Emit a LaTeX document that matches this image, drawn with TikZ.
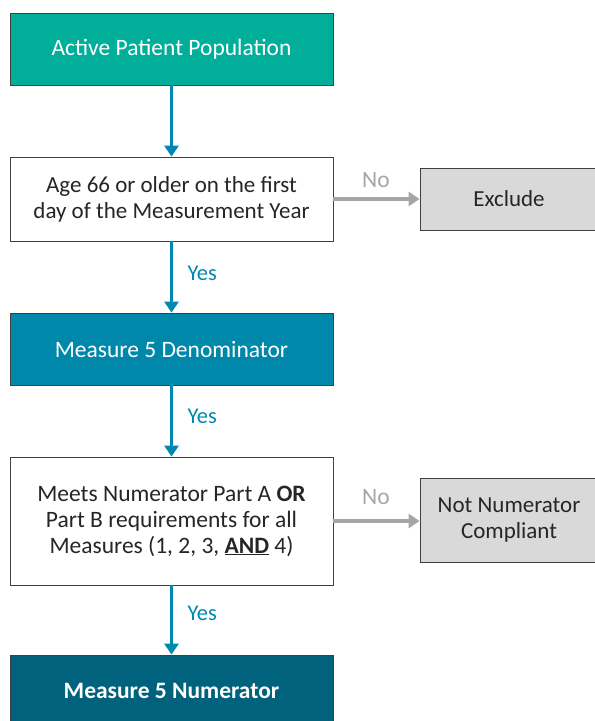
\documentclass[tikz,border=0pt]{standalone}
\usepackage{fontspec}
\setmainfont{Carlito}
\usetikzlibrary{arrows.meta}
\definecolor{teal1}{HTML}{00AE9A}
\definecolor{blue1}{HTML}{0088AA}
\definecolor{blue2}{HTML}{00627D}
\definecolor{arrowblue}{HTML}{0089B0}
\definecolor{greyfill}{HTML}{D9D9D9}
\definecolor{greyline}{HTML}{A6A6A6}
\definecolor{edge}{HTML}{404040}
\tikzset{
  box/.style={draw=edge, line width=0.8pt, minimum width=323pt, align=center,
    font=\fontsize{23.5}{26}\selectfont, inner sep=0pt},
  sidebox/.style={draw=edge, line width=0.8pt, fill=greyfill, align=center,
    font=\fontsize{23}{26}\selectfont, inner sep=0pt, text=black!85},
  yesarrow/.style={draw=arrowblue, line width=3.6pt, -{Triangle[width=14pt,length=11pt]}},
  noarrow/.style={draw=greyline, line width=3.6pt, -{Triangle[width=14pt,length=11pt]}},
  yeslabel/.style={text=arrowblue, font=\fontsize{22.5}{24}\selectfont, anchor=west},
  nolabel/.style={text=greyline, font=\fontsize{23.5}{24}\selectfont},
}
\begin{document}
\begin{tikzpicture}[x=1pt,y=-1pt]
\useasboundingbox (0,0) rectangle (595,721);
\begin{scope}
\clip (0,0) rectangle (595,721);
% main column
\node[box, fill=teal1, text=white, minimum height=72pt] (pop) at (171.5,49) {Active Patient Population};
\node[box, fill=white, text=black!85, minimum height=84pt, font=\fontsize{23}{26}\selectfont] (age) at (171.5,199) {Age 66 or older on the first\\day of the Measurement Year};
\node[box, fill=blue1, text=white, minimum height=72pt] (den) at (171.5,349) {Measure 5 Denominator};
\node[box, fill=white, text=black!85, minimum height=128pt] (meets) at (171.5,521) {Meets Numerator Part A \textbf{OR}\\Part B requirements for all\\Measures (1, 2, 3, \underline{\textbf{AND}} 4)};
\node[box, fill=blue2, text=white, minimum height=72pt, font=\fontsize{23.5}{26}\selectfont\bfseries] (num) at (171.5,691) {Measure 5 Numerator};
% exclusions
\node[sidebox, minimum width=178pt, minimum height=62pt] (excl) at (509,199) {Exclude};
\node[sidebox, minimum width=178pt, minimum height=84pt] (notnum) at (509,520) {Not Numerator\\Compliant};
\end{scope}
% connectors
\draw[yesarrow] (pop) -- (age);
\draw[yesarrow] (age) -- (den);
\draw[yesarrow] (den) -- (meets);
\draw[yesarrow] (meets) -- (num);
\draw[noarrow] (age.east) -- (excl.west |- age.east);
\draw[noarrow] (meets.east) -- (notnum.west |- meets.east);
% labels
\node[yeslabel] (y1) at (184,273) {Yes};
\node[yeslabel] (y2) at (184,416) {Yes};
\node[yeslabel] (y3) at (184,613) {Yes};
\node[nolabel] (n1) at (376,180) {No};
\node[nolabel] (n2) at (376,497) {No};
\end{tikzpicture}
\end{document}
